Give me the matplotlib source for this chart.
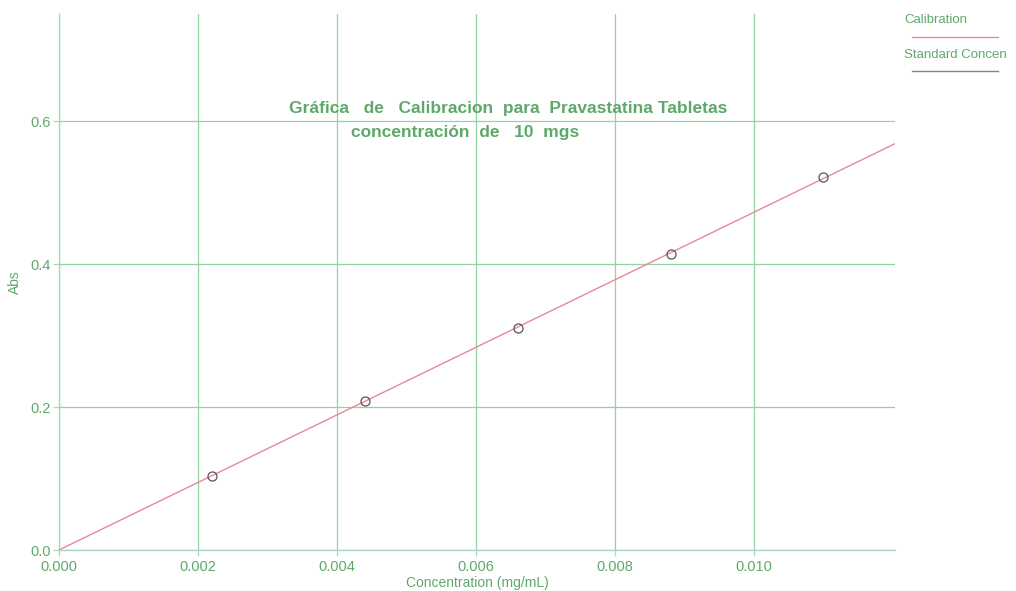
import numpy as np
import matplotlib
matplotlib.use("Agg")
import matplotlib.pyplot as plt
from matplotlib.lines import Line2D

# Standards: concentration (mg/mL) and measured absorbance
concentration = [0.0022, 0.0044, 0.0066, 0.0088, 0.0110]
absorbance = [0.1035, 0.208, 0.311, 0.414, 0.522]

x_ticks = [0.000, 0.002, 0.004, 0.006, 0.008, 0.010]
x_tick_labels = ["0.000", "0.002", "0.004", "0.006", "0.008", "0.010"]
y_ticks = [0.0, 0.2, 0.4, 0.6]
y_tick_labels = ["0.0", "0.2", "0.4", "0.6"]

title_line1 = "Gráfica   de   Calibracion  para  Pravastatina Tabletas"
title_line2 = "concentración  de   10  mgs"
legend_labels = ["Calibration", "Standard Concen"]

TEXT_GREEN = "#5fa86c"
GRID_GREEN = "#8fd3a6"
SPINE_COLOR = "#a8d8c4"
LINE_RED = "#e68a95"
MARKER_GRAY = "#555555"
LEGEND_LINE2 = "#8a7f98"

plt.rcParams["font.family"] = ["Liberation Sans", "DejaVu Sans"]

fig = plt.figure(figsize=(10.16, 5.91), dpi=100)
W, H = 1016, 591
left, right, top, bottom = 59, 895, 14, 550
ax = fig.add_axes([left / W, 1 - bottom / H, (right - left) / W, (bottom - top) / H])

# Calibration line: least squares through the origin
cx = np.array(concentration)
cy = np.array(absorbance)
slope = np.sum(cx * cy) / np.sum(cx * cx)
x_max = 0.01203
xx = np.array([0.0, x_max])
ax.plot(xx, slope * xx, color=LINE_RED, lw=1.0, zorder=3)

# Standard points as open circles
ax.plot(concentration, absorbance, ls="none", marker="o", ms=6.5,
        mfc="none", mec=MARKER_GRAY, mew=0.9, zorder=4)

ax.set_xlim(0, x_max)
ax.set_ylim(0, 0.75)
ax.set_xticks(x_ticks)
ax.set_xticklabels(x_tick_labels)
ax.set_yticks(y_ticks)
ax.set_yticklabels(y_tick_labels)
ax.grid(True, color=GRID_GREEN, lw=0.9)
ax.set_axisbelow(True)

for side in ("top", "right"):
    ax.spines[side].set_visible(False)
for side in ("left", "bottom"):
    ax.spines[side].set_color(SPINE_COLOR)
    ax.spines[side].set_linewidth(1.0)

ax.tick_params(axis="both", colors=SPINE_COLOR, labelcolor=TEXT_GREEN,
               labelsize=10.5, length=4, width=0.9)
ax.tick_params(axis="x", pad=3)
ax.tick_params(axis="y", pad=2)

# Axis titles
fig.text((left + right) / 2 / W, 1 - 583 / H, "Concentration (mg/mL)",
         color=TEXT_GREEN, fontsize=10, ha="center", va="center")
fig.text(15 / W, 1 - (top + bottom) / 2 / H, "Abs", color=TEXT_GREEN,
         fontsize=10, rotation=90, ha="center", va="center")

# Two-line title inside the plotting area
fig.text(289 / W, 1 - 109 / H, title_line1, color=TEXT_GREEN, fontsize=12.5,
         fontweight="bold", ha="left", va="center")
fig.text(351 / W, 1 - 132 / H, title_line2, color=TEXT_GREEN, fontsize=12.5,
         fontweight="bold", ha="left", va="center")

# Legend block at the top right
fig.text(904 / W, 1 - 20 / H, legend_labels[0], color=TEXT_GREEN, fontsize=9.5,
         ha="left", va="center")
fig.add_artist(Line2D([912 / W, 998 / W], [1 - 37 / H, 1 - 37 / H],
                      color=LINE_RED, lw=1.0))
fig.text(904 / W, 1 - 55 / H, legend_labels[1], color=TEXT_GREEN, fontsize=9.5,
         ha="left", va="center")
fig.add_artist(Line2D([912 / W, 998 / W], [1 - 71 / H, 1 - 71 / H],
                      color=LEGEND_LINE2, lw=1.0))

fig.savefig("out.png", dpi=100, facecolor="white")
